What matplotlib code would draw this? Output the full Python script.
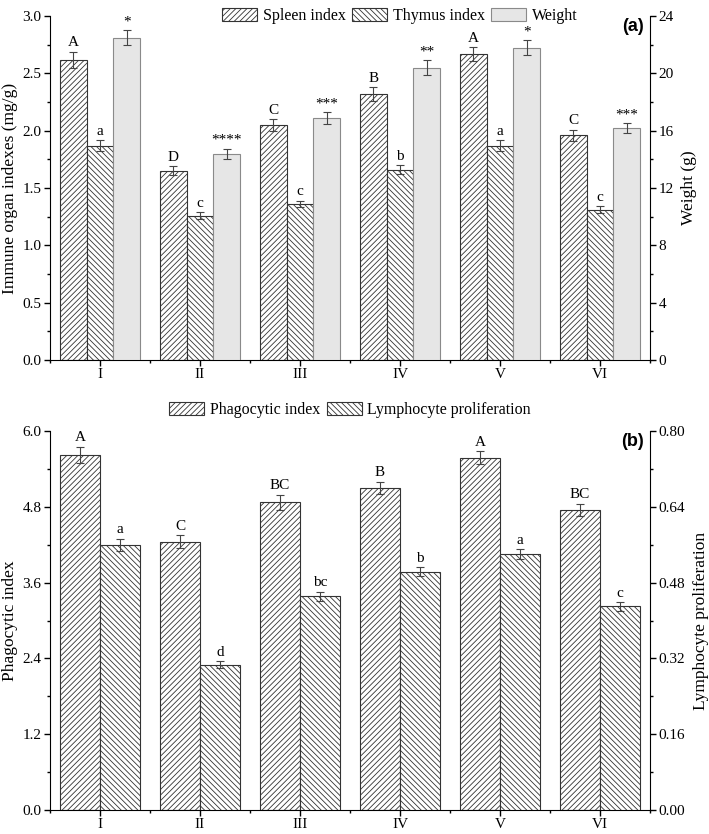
import matplotlib
matplotlib.use("Agg")
import matplotlib.pyplot as plt
import numpy as np
from matplotlib.ticker import MultipleLocator, FixedLocator

plt.rcParams['font.family'] = ['Liberation Serif', 'DejaVu Serif']
plt.rcParams['hatch.linewidth'] = 0.6
plt.rcParams['hatch.color'] = '#333333'

groups = ["I", "II", "III", "IV", "V", "VI"]

# Panel (a)
spleen = [2.62, 1.65, 2.05, 2.32, 2.67, 1.96]
spleen_err = [0.07, 0.04, 0.05, 0.06, 0.06, 0.05]
spleen_lab = ["A", "D", "C", "B", "A", "C"]
thymus = [1.87, 1.26, 1.36, 1.66, 1.87, 1.31]
thymus_err = [0.05, 0.03, 0.03, 0.04, 0.05, 0.03]
thymus_lab = ["a", "c", "c", "b", "a", "c"]
weight = [22.5, 14.4, 16.9, 20.4, 21.8, 16.2]
weight_err = [0.5, 0.35, 0.4, 0.5, 0.5, 0.35]
weight_lab = ["*", "****", "***", "**", "*", "***"]

# Panel (b)
phago = [5.62, 4.25, 4.87, 5.10, 5.58, 4.75]
phago_err = [0.13, 0.10, 0.12, 0.10, 0.10, 0.10]
phago_lab = ["A", "C", "BC", "B", "A", "BC"]
lympho = [0.560, 0.307, 0.451, 0.503, 0.540, 0.430]
lympho_err = [0.013, 0.007, 0.010, 0.010, 0.011, 0.009]
lympho_lab = ["a", "d", "bc", "b", "a", "c"]

W, H = 709, 834
fig = plt.figure(figsize=(W / 100, H / 100), dpi=100)

def frac(x0, y0, x1, y1):
    return [x0 / W, 1 - y1 / H, (x1 - x0) / W, (y1 - y0) / H]

EC = '#333333'
err_kw = dict(ecolor='#444444', elinewidth=0.8, capsize=3, capthick=0.8)
TFS = 11
LFS = 12.5
AFS = 11

def style(ax, axr):
    for a in (ax, axr):
        a.spines['top'].set_visible(False)
        a.tick_params(direction='out', labelsize=TFS, length=4, width=1, pad=2)
        a.tick_params(which='minor', direction='out', length=2.5, width=1)
    ax.spines['right'].set_visible(False)
    axr.spines['left'].set_visible(False)
    axr.spines['bottom'].set_visible(False)
    ax.set_xlim(0.5, 6.5)
    ax.set_xticks(np.arange(1, 7))
    ax.set_xticklabels(groups)
    ax.xaxis.set_minor_locator(FixedLocator(np.arange(0.5, 7, 1.0)))

x = np.arange(1, 7)

# ---------- Panel (a)
ax = fig.add_axes(frac(50, 16, 650, 360))
axr = ax.twinx()
bw = 0.267
b1 = ax.bar(x - bw, spleen, bw, yerr=spleen_err, facecolor='white', edgecolor=EC,
            hatch='//////', linewidth=0.8, error_kw=err_kw, label='Spleen index', zorder=2)
b2 = ax.bar(x, thymus, bw, yerr=thymus_err, facecolor='white', edgecolor=EC,
            hatch='\\\\\\\\\\\\', linewidth=0.8, error_kw=err_kw, label='Thymus index', zorder=2)
b3 = axr.bar(x + bw, weight, bw, yerr=weight_err, facecolor='#e6e6e6', edgecolor='#8a8a8a',
             linewidth=0.8, error_kw=err_kw, label='Weight', zorder=2)
ax.set_ylim(0, 3.0)
axr.set_ylim(0, 24)
ax.yaxis.set_major_locator(MultipleLocator(0.5))
ax.yaxis.set_minor_locator(MultipleLocator(0.25))
axr.yaxis.set_major_locator(MultipleLocator(4))
axr.yaxis.set_minor_locator(MultipleLocator(2))
ax.yaxis.set_major_formatter(matplotlib.ticker.FormatStrFormatter('%.1f'))
style(ax, axr)
ax.set_ylabel('Immune organ indexes (mg/g)', fontsize=LFS, labelpad=3)
axr.set_ylabel('Weight (g)', fontsize=LFS, labelpad=5)
for xi, v, e, t in zip(x - bw, spleen, spleen_err, spleen_lab):
    ax.text(xi, v + e + 0.02, t, ha='center', va='bottom', fontsize=AFS)
for xi, v, e, t in zip(x, thymus, thymus_err, thymus_lab):
    ax.text(xi, v + e + 0.02, t, ha='center', va='bottom', fontsize=AFS)
for xi, v, e, t in zip(x + bw, weight, weight_err, weight_lab):
    axr.text(xi, v + e + 0.12, t, ha='center', va='bottom', fontsize=AFS)
ax.legend(handles=[b1, b2, b3], loc='center', bbox_to_anchor=(0.583, 1.0), ncol=3,
          frameon=False, fontsize=11.5, handlelength=2.2, handleheight=0.9,
          columnspacing=0.4, handletextpad=0.35, borderaxespad=0)
ax.text(0.99, 0.995, '(a)', transform=ax.transAxes, ha='right', va='top',
        fontsize=13, fontweight='bold', family=['Liberation Sans', 'DejaVu Sans'])

# ---------- Panel (b)
bx = fig.add_axes(frac(50, 431, 650, 810))
bxr = bx.twinx()
bw2 = 0.4
c1 = bx.bar(x - bw2 / 2, phago, bw2, yerr=phago_err, facecolor='white', edgecolor=EC,
            hatch='//////', linewidth=0.8, error_kw=err_kw, label='Phagocytic index', zorder=2)
c2 = bxr.bar(x + bw2 / 2, lympho, bw2, yerr=lympho_err, facecolor='white', edgecolor=EC,
             hatch='\\\\\\\\\\\\', linewidth=0.8, error_kw=err_kw, label='Lymphocyte proliferation', zorder=2)
bx.set_ylim(0, 6.0)
bxr.set_ylim(0, 0.80)
bx.yaxis.set_major_locator(MultipleLocator(1.2))
bx.yaxis.set_minor_locator(MultipleLocator(0.6))
bxr.yaxis.set_major_locator(MultipleLocator(0.16))
bxr.yaxis.set_minor_locator(MultipleLocator(0.08))
bx.yaxis.set_major_formatter(matplotlib.ticker.FormatStrFormatter('%.1f'))
bxr.yaxis.set_major_formatter(matplotlib.ticker.FormatStrFormatter('%.2f'))
style(bx, bxr)
bx.set_ylabel('Phagocytic index', fontsize=LFS, labelpad=3)
bxr.set_ylabel('Lymphocyte proliferation', fontsize=LFS, labelpad=6)
for xi, v, e, t in zip(x - bw2 / 2, phago, phago_err, phago_lab):
    bx.text(xi, v + e + 0.04, t, ha='center', va='bottom', fontsize=AFS)
for xi, v, e, t in zip(x + bw2 / 2, lympho, lympho_err, lympho_lab):
    bxr.text(xi, v + e + 0.005, t, ha='center', va='bottom', fontsize=AFS)
bx.legend(handles=[c1, c2], loc='center', bbox_to_anchor=(0.50, 1.055), ncol=2,
          frameon=False, fontsize=11.5, handlelength=2.2, handleheight=0.9,
          columnspacing=0.4, handletextpad=0.35, borderaxespad=0)
bx.text(0.99, 0.995, '(b)', transform=bx.transAxes, ha='right', va='top',
        fontsize=13, fontweight='bold', family=['Liberation Sans', 'DejaVu Sans'])

fig.savefig('out.png', dpi=100)
